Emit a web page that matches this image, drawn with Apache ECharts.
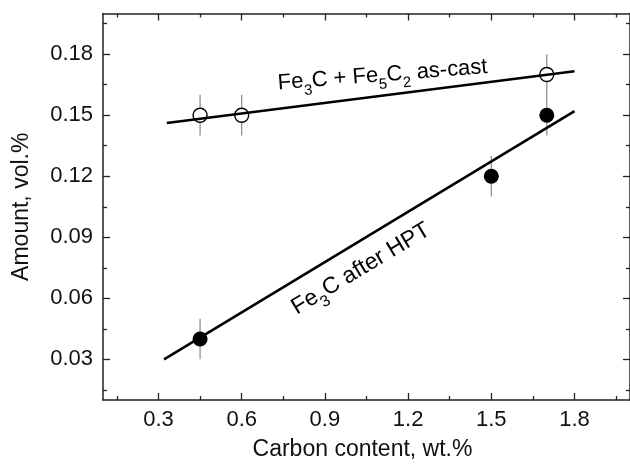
<!DOCTYPE html>
<html>
<head>
<meta charset="utf-8">
<script src="https://cdn.jsdelivr.net/npm/echarts@6/dist/echarts.min.js"></script>
<style>
html,body{margin:0;padding:0;background:#fff;}
#c{width:630px;height:466px;}
</style>
</head>
<body>
<div id="c"></div>
<script>
// ---- data ----
const xRange = [0.1, 2.0];
const yRange = [0.01, 0.20];
const xMajorTicks = [0.3, 0.6, 0.9, 1.2, 1.5, 1.8];
const xMinorTicks = [0.15, 0.45, 0.75, 1.05, 1.35, 1.65, 1.95];
const yMajorTicks = [0.03, 0.06, 0.09, 0.12, 0.15, 0.18];
const yMinorTicks = [0.015, 0.045, 0.075, 0.105, 0.135, 0.165, 0.195];

const asCastCarbon = [0.45, 0.6, 1.7];
const asCastAmount = [0.15, 0.15, 0.17];
const asCastError = [0.01, 0.01, 0.01];

const hptCarbon = [0.45, 1.5, 1.7];
const hptAmount = [0.04, 0.12, 0.15];
const hptError = [0.01, 0.01, 0.01];

const asCastFitX = [0.33, 1.8];
const asCastFitY = [0.1462, 0.1716];
const hptFitX = [0.32, 1.8];
const hptFitY = [0.030, 0.152];

const xTitle = 'Carbon content, wt.%';
const yTitle = 'Amount, vol.%';
const asCastLabelPos = [1.108, 0.1697];
const hptLabelPos = [1.03, 0.0745];

// ---- chart ----
const FONT = '"Liberation Sans", Arial, sans-serif';
const AX = '#222';
const chart = echarts.init(document.getElementById('c'), null, {renderer: 'canvas'});

function xAxisDef(pos, ticks, len, withLabels, withLine) {
  return {
    type: 'value', position: pos, min: xRange[0], max: xRange[1],
    axisLine: {show: withLine, onZero: false, lineStyle: {color: AX, width: 1.5}},
    axisTick: {show: true, inside: true, length: len, customValues: ticks, lineStyle: {color: AX, width: 1.3}},
    axisLabel: withLabels ? {show: true, customValues: ticks, formatter: v => v.toFixed(1),
      color: '#111', fontSize: 22, fontFamily: FONT, margin: 9} : {show: false},
    splitLine: {show: false}
  };
}
function yAxisDef(pos, ticks, len, withLabels, withLine) {
  return {
    type: 'value', position: pos, min: yRange[0], max: yRange[1],
    axisLine: {show: withLine, onZero: false, lineStyle: {color: AX, width: 1.5}},
    axisTick: {show: true, inside: true, length: len, customValues: ticks, lineStyle: {color: AX, width: 1.3}},
    axisLabel: withLabels ? {show: true, customValues: ticks, formatter: v => v.toFixed(2),
      color: '#111', fontSize: 22, fontFamily: FONT, margin: 10} : {show: false},
    splitLine: {show: false}
  };
}

const xAxes = [
  xAxisDef('bottom', xMajorTicks, 7, true, true),
  xAxisDef('bottom', xMinorTicks, 4, false, false),
  xAxisDef('top', xMajorTicks, 7, false, true),
  xAxisDef('top', xMinorTicks, 4, false, false)
];
xAxes[0].name = xTitle;
xAxes[0].nameLocation = 'middle';
xAxes[0].nameGap = 38;
xAxes[0].nameTextStyle = {fontSize: 23, fontFamily: FONT, color: '#111', padding: [0, 8, 0, 0]};

const yAxes = [
  yAxisDef('left', yMajorTicks, 7, true, true),
  yAxisDef('left', yMinorTicks, 4, false, false),
  yAxisDef('right', yMajorTicks, 7, false, true),
  yAxisDef('right', yMinorTicks, 4, false, false)
];
yAxes[0].name = yTitle;
yAxes[0].nameLocation = 'middle';
yAxes[0].nameGap = 70;
yAxes[0].nameRotate = 90;
yAxes[0].nameTextStyle = {fontSize: 23, fontFamily: FONT, color: '#111'};

function errData(xs, ys, es) {
  return xs.map((x, i) => [x, ys[i] - es[i], ys[i] + es[i]]);
}
function errRender(params, api) {
  const p1 = api.coord([api.value(0), api.value(1)]);
  const p2 = api.coord([api.value(0), api.value(2)]);
  return {type: 'line', shape: {x1: p1[0], y1: p1[1], x2: p2[0], y2: p2[1]},
    style: {stroke: '#8a8a8a', lineWidth: 1.2}};
}

chart.setOption({
  animation: false,
  backgroundColor: '#ffffff',
  grid: {left: 103, top: 13.5, width: 527.6, height: 390.5, containLabel: false},
  xAxis: xAxes,
  yAxis: yAxes,
  series: [
    {type: 'custom', renderItem: errRender, data: errData(asCastCarbon, asCastAmount, asCastError), z: 1,
      encode: {x: 0, y: [1, 2]}},
    {type: 'custom', renderItem: errRender, data: errData(hptCarbon, hptAmount, hptError), z: 1,
      encode: {x: 0, y: [1, 2]}},
    {type: 'scatter', data: asCastCarbon.map((x, i) => [x, asCastAmount[i]]), symbol: 'circle', symbolSize: 14,
      itemStyle: {color: '#ffffff', borderColor: '#000', borderWidth: 1.4, opacity: 1}, z: 2},
    {type: 'scatter', data: hptCarbon.map((x, i) => [x, hptAmount[i]]), symbol: 'circle', symbolSize: 15,
      itemStyle: {color: '#000', opacity: 1}, z: 2},
    {type: 'line', data: asCastFitX.map((x, i) => [x, asCastFitY[i]]), showSymbol: false, symbol: 'none',
      lineStyle: {color: '#000', width: 2.6}, z: 3},
    {type: 'line', data: hptFitX.map((x, i) => [x, hptFitY[i]]), showSymbol: false, symbol: 'none',
      lineStyle: {color: '#000', width: 2.6}, z: 3}
  ]
});

const p1 = chart.convertToPixel({gridIndex: 0}, asCastLabelPos);
const p2 = chart.convertToPixel({gridIndex: 0}, hptLabelPos);
const rich1 = {
  n: {fontSize: 22, fontFamily: FONT, color: '#111', lineHeight: 22},
  s: {fontSize: 15, fontFamily: FONT, color: '#111', lineHeight: 15, padding: [19, 0, 0, 0]}
};
const rich2 = {
  n: {fontSize: 23, fontFamily: FONT, color: '#111', lineHeight: 23},
  s: {fontSize: 16, fontFamily: FONT, color: '#111', lineHeight: 16, padding: [20, 0, 0, 0]}
};
chart.setOption({
  graphic: [
    {type: 'text', x: p1[0], y: p1[1], rotation: 4.5 * Math.PI / 180, z: 10,
      style: {text: '{n|Fe}{s|3}{n|C + Fe}{s|5}{n|C}{s|2}{n| as-cast}', rich: rich1,
        align: 'center', verticalAlign: 'middle'}},
    {type: 'text', x: p2[0], y: p2[1], rotation: 31 * Math.PI / 180, z: 10,
      style: {text: '{n|Fe}{s|3}{n|C after HPT}', rich: rich2,
        align: 'center', verticalAlign: 'middle'}}
  ]
});
</script>
</body>
</html>
